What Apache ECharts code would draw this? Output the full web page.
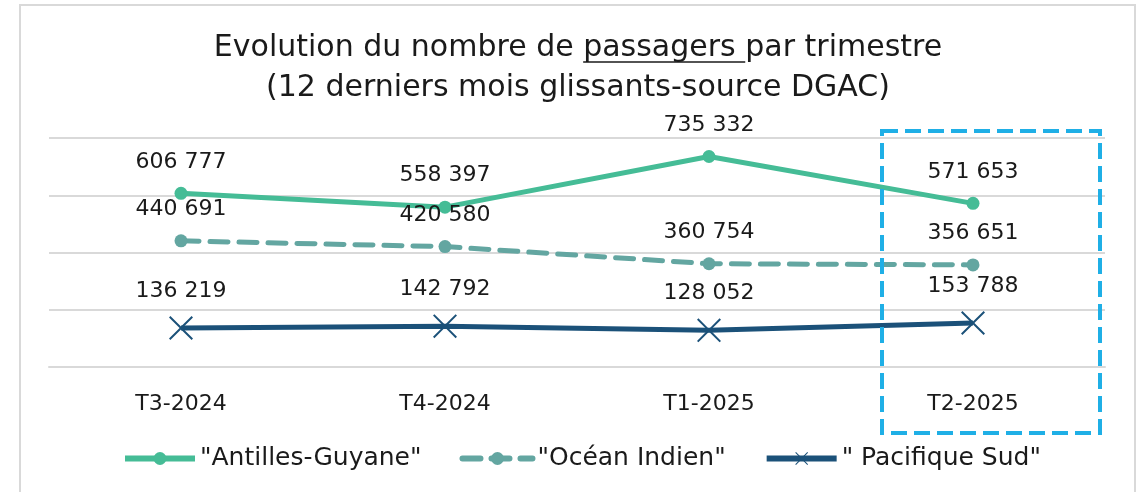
<!DOCTYPE html>
<html>
<head>
<meta charset="utf-8">
<script src="https://cdn.jsdelivr.net/npm/echarts@6/dist/echarts.min.js"></script>
<style>
  html, body { margin: 0; padding: 0; background: #fff; }
  #chart { width: 1139px; height: 492px; }
</style>
</head>
<body>
<div id="chart"></div>
<script>
// données
var quarters = ['T3-2024', 'T4-2024', 'T1-2025', 'T2-2025'];
var antilles = [606777, 558397, 735332, 571653];
var oceanIndien = [440691, 420580, 360754, 356651];
var pacifique = [136219, 142792, 128052, 153788];
var seriesNames = ['"Antilles-Guyane"', '"Océan Indien"', '" Pacifique Sud"'];
var titleLine1 = ['Evolution du nombre de ', 'passagers', ' par trimestre'];
var titleLine2 = '(12 derniers mois glissants-source DGAC)';

var FONT = 'DejaVu Sans';
var crossPath = 'path://M0,1.4L1.4,0L12,10.6L22.6,0L24,1.4L13.4,12L24,22.6L22.6,24L12,13.4L1.4,24L0,22.6L10.6,12Z';

// mesure du titre pour placer le soulignement
var ctx = document.createElement('canvas').getContext('2d');
ctx.font = '30px ' + FONT;
var wPre = ctx.measureText(titleLine1[0]).width;
var wWord = ctx.measureText(titleLine1[1] + ' ').width;
var wAll = ctx.measureText(titleLine1.join('')).width;
var titleX = 578;
var ulStart = titleX - wAll / 2 + wPre;

function fmt(v) {
  return String(v).replace(/\B(?=(\d{3})+(?!\d))/g, ' ');
}

var labelStyle = {
  show: true,
  position: 'top',
  distance: 14,
  fontFamily: FONT,
  fontSize: 22,
  color: '#1a1a1a',
  formatter: function (p) { return fmt(p.value); }
};

var chart = echarts.init(document.getElementById('chart'));
chart.setOption({
  animation: false,
  grid: { left: 49, right: 34, top: 138, bottom: 125 },
  xAxis: {
    type: 'category',
    data: quarters,
    axisLine: { lineStyle: { color: '#d9d9d9', width: 2 } },
    axisTick: { show: false },
    axisLabel: { fontFamily: FONT, fontSize: 22, color: '#1a1a1a', margin: 26 }
  },
  yAxis: {
    type: 'value',
    min: 0,
    max: 800000,
    interval: 200000,
    axisLabel: { show: false },
    axisLine: { show: false },
    axisTick: { show: false },
    splitLine: { lineStyle: { color: '#d9d9d9', width: 2 } }
  },
  legend: {
    left: 117,
    top: 441,
    itemWidth: 70,
    itemHeight: 16,
    itemGap: 38,
    lineStyle: { width: 6 },
    textStyle: { fontFamily: FONT, fontSize: 25, color: '#1a1a1a' },
    data: seriesNames
  },
  series: [
    {
      name: seriesNames[0],
      type: 'line',
      data: antilles,
      symbol: 'circle',
      symbolSize: 13,
      lineStyle: { color: '#45bc96', width: 5 },
      itemStyle: { color: '#45bc96' },
      label: labelStyle
    },
    {
      name: seriesNames[1],
      type: 'line',
      data: oceanIndien,
      symbol: 'circle',
      symbolSize: 13,
      lineStyle: { color: '#63a6a1', width: 5, type: [18, 11], cap: 'round' },
      itemStyle: { color: '#63a6a1' },
      label: labelStyle
    },
    {
      name: seriesNames[2],
      type: 'line',
      data: pacifique,
      symbol: crossPath,
      symbolSize: 24,
      lineStyle: { color: '#1b5179', width: 5 },
      itemStyle: { color: '#1b5179' },
      label: labelStyle
    }
  ],
  graphic: [
    {
      type: 'rect',
      silent: true,
      shape: { x: 20, y: 5, width: 1115, height: 520 },
      style: { fill: 'none', stroke: '#d9d9d9', lineWidth: 2 }
    },
    {
      type: 'text',
      x: titleX, y: 48,
      style: {
        text: titleLine1.join(''),
        font: '30px ' + FONT,
        fill: '#1a1a1a',
        align: 'center',
        verticalAlign: 'middle'
      }
    },
    {
      type: 'line',
      shape: { x1: ulStart, y1: 62, x2: ulStart + wWord, y2: 62 },
      style: { stroke: '#1a1a1a', lineWidth: 1.5 }
    },
    {
      type: 'text',
      x: titleX, y: 88,
      style: {
        text: titleLine2,
        font: '30px ' + FONT,
        fill: '#1a1a1a',
        align: 'center',
        verticalAlign: 'middle'
      }
    },
    {
      type: 'rect',
      silent: true,
      z: 100,
      shape: { x: 882, y: 131, width: 218, height: 302 },
      style: { fill: 'none', stroke: '#1fafe6', lineWidth: 4, lineDash: [16, 7] }
    }
  ]
});
</script>
</body>
</html>
